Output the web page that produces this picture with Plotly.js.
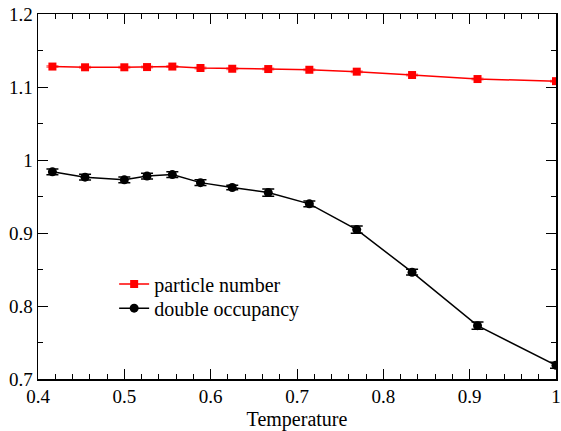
<!DOCTYPE html>
<html><head><meta charset="utf-8">
<script src="https://cdn.plot.ly/plotly-3.0.1.min.js"></script>
<style>html,body{margin:0;padding:0;background:#fff}#chart{width:561px;height:431px}</style>
</head><body><div id="chart"></div>
<script>
const temperature = [0.4167, 0.4545, 0.5, 0.5263, 0.5556, 0.5882, 0.625, 0.6667, 0.7143, 0.7692, 0.8333, 0.9091, 1.0];
const particleNumber = [1.128, 1.127, 1.127, 1.1273, 1.128, 1.126, 1.125, 1.1246, 1.1236, 1.121, 1.1164, 1.1109, 1.108];
const particleErr = [0.001, 0.001, 0.001, 0.001, 0.001, 0.001, 0.001, 0.001, 0.001, 0.001, 0.001, 0.001, 0.001];
const doubleOcc = [0.9838, 0.9765, 0.9728, 0.978, 0.980, 0.969, 0.9623, 0.9554, 0.9399, 0.9047, 0.8463, 0.7731, 0.7188];
const doubleErr = [0.004, 0.004, 0.004, 0.004, 0.004, 0.004, 0.003, 0.005, 0.004, 0.005, 0.004, 0.005, 0.004];
const xTickVals = [0.4, 0.5, 0.6, 0.7, 0.8, 0.9, 1.0];
const xTickText = ['0.4', '0.5', '0.6', '0.7', '0.8', '0.9', '1'];
const yTickVals = [0.7, 0.8, 0.9, 1.0, 1.1, 1.2];
const yTickText = ['0.7', '0.8', '0.9', '1', '1.1', '1.2'];

const serif = 'Times New Roman, Liberation Serif, serif';

const traces = [
  {x: temperature, y: particleNumber, name: 'particle number', type: 'scatter', mode: 'lines+markers',
   legend: 'legend',
   line: {color: '#ff0000', width: 1.5}, marker: {symbol: 'square', size: 8, color: '#ff0000'},
   error_y: {type: 'data', array: particleErr, visible: true, color: '#ff8080', thickness: 1.5, width: 6}},
  {x: temperature, y: doubleOcc, name: 'double occupancy', type: 'scatter', mode: 'lines+markers',
   legend: 'legend2',
   line: {color: '#000000', width: 1.5}, marker: {symbol: 'circle', size: 9, color: '#000000'},
   error_y: {type: 'data', array: doubleErr, visible: true, color: '#000000', thickness: 1.5, width: 6}}
];

const axisCommon = {
  showgrid: false, zeroline: false, showline: true, linecolor: '#000', linewidth: 1.5,
  mirror: 'allticks', ticks: 'inside', ticklen: 10, tickwidth: 1, tickcolor: '#000',
  ticklabeloverflow: 'allow',
  tickfont: {family: serif, size: 19, color: '#000'}
};

const legendCommon = {x: 0.147, xanchor: 'left', yanchor: 'middle', bgcolor: 'rgba(0,0,0,0)',
  font: {family: serif, size: 20, color: '#000'}, itemwidth: 30};

const layout = {
  width: 561, height: 431,
  margin: {l: 38, r: 5, t: 14, b: 52},
  paper_bgcolor: '#fff', plot_bgcolor: '#fff',
  font: {family: serif, color: '#000'},
  showlegend: true,
  legend: Object.assign({}, legendCommon, {y: 0.260}),
  legend2: Object.assign({}, legendCommon, {y: 0.194}),
  xaxis: Object.assign({}, axisCommon, {range: [0.4, 1.0],
    tickvals: xTickVals, ticktext: xTickText,
    minor: {dtick: 0.02, ticklen: 5, ticks: 'inside', tickcolor: '#000'},
    title: {text: 'Temperature', font: {family: serif, size: 20, color: '#000'}, standoff: 10}}),
  yaxis: Object.assign({}, axisCommon, {range: [0.7, 1.2],
    tickvals: yTickVals, ticktext: yTickText,
    minor: {dtick: 0.05, ticklen: 5, ticks: 'inside', tickcolor: '#000'}})
};

Plotly.newPlot('chart', traces, layout, {displayModeBar: false, staticPlot: true});
</script></body></html>
